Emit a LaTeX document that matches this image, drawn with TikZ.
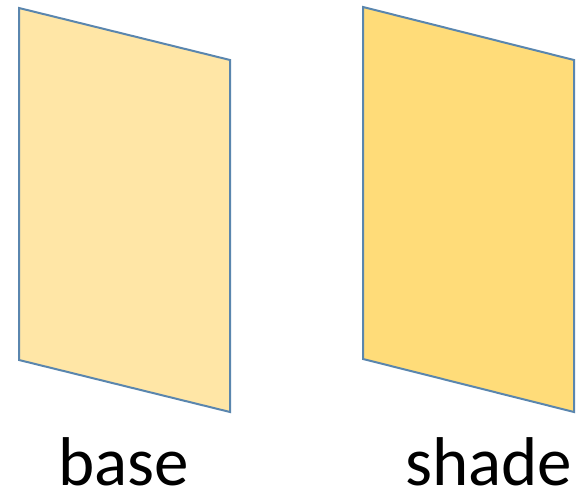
\documentclass[tikz,border=0pt]{standalone}
\usepackage{fontspec}
\setmainfont{Carlito}
\definecolor{edge}{HTML}{5A86AE}
\definecolor{lightfill}{HTML}{FFE6A6}
\definecolor{darkfill}{HTML}{FFDC79}
\tikzset{panel/.style={draw=edge,line width=2pt,line join=miter},
  lbl/.style={anchor=base,inner sep=0pt,text depth=0pt,font=\fontsize{69}{76}\selectfont}}
\begin{document}
\begin{tikzpicture}[x=1pt,y=-1pt]
\useasboundingbox (0,0) rectangle (584,494);
\coordinate (a1) at (19,8);
\coordinate (a2) at (230,60);
\coordinate (a3) at (230,412);
\coordinate (a4) at (19,360);
\coordinate (b1) at (363,7);
\coordinate (b2) at (574,60);
\coordinate (b3) at (574,412);
\coordinate (b4) at (363,359);
\draw[panel,fill=lightfill] (a1) -- (a2) -- (a3) -- (a4) -- cycle;
\draw[panel,fill=darkfill] (b1) -- (b2) -- (b3) -- (b4) -- cycle;
\node[lbl] (base) at (124,485.5) {base};
\node[lbl] (shade) at (488.5,485.5) {shade};
\end{tikzpicture}
\end{document}
